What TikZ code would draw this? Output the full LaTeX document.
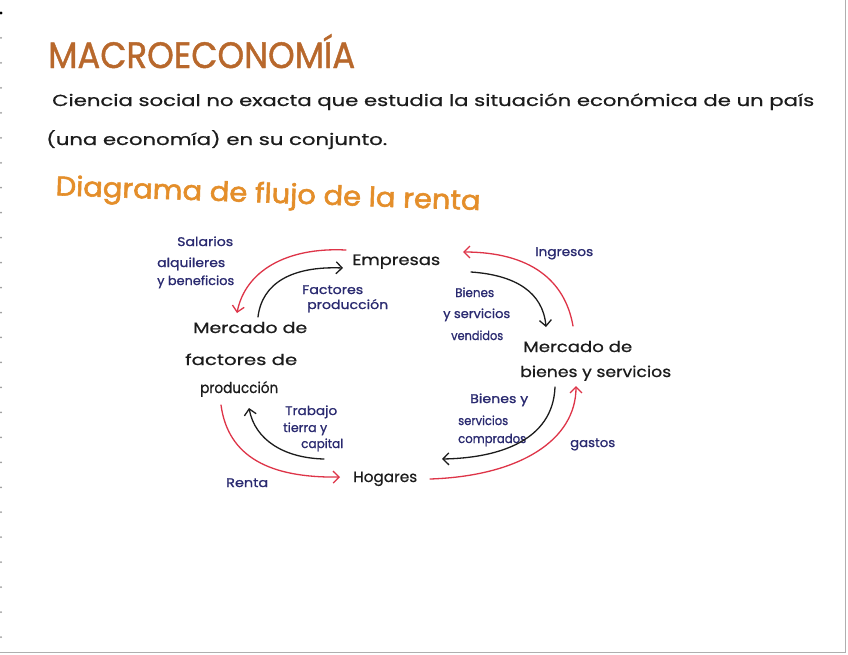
\documentclass[tikz,border=0pt]{standalone}
\usepackage{fontspec}
\setmainfont{Poppins}
\newfontfamily\subfont[FakeBold=2]{Poppins}
\usepackage{graphicx}
\usetikzlibrary{arrows.meta}
\definecolor{titlec}{RGB}{184,104,44}
\definecolor{subc}{RGB}{228,142,42}
\definecolor{redc}{RGB}{222,52,72}
\definecolor{navyc}{RGB}{42,42,112}
\definecolor{inkc}{RGB}{28,28,28}
\definecolor{edgec}{RGB}{175,175,175}
% fit to a width, keeping the natural height
\newcommand{\fw}[2]{\resizebox{#1pt}{\height}{#2}}
\newcommand{\fwh}[3]{\resizebox{#1pt}{#2pt}{#3}}
\begin{document}
\begin{tikzpicture}[x=1pt,y=-1pt,
  txt/.style={inner sep=0pt, anchor=base west, text=inkc, font=\fontsize{15}{17}\selectfont\addfontfeatures{FakeBold=0.6}},
  body/.style={txt, font=\fontsize{16}{18}\selectfont\addfontfeatures{FakeBold=0.6}},
  lab/.style={inner sep=0pt, anchor=base west, text=navyc, font=\fontsize{12.5}{14}\selectfont\addfontfeatures{FakeBold=1}},
  flow/.style={line width=1.3pt, line cap=round, -{Straight Barb[length=6pt,width=12pt,line width=1.3pt]}},
  redflow/.style={flow, draw=redc},
  blkflow/.style={flow, draw=inkc}]
\useasboundingbox (0,0) rectangle (848,654);
\fill[white] (0,0) rectangle (848,654);
% paper edges
\draw[edgec, line width=1pt] (845.5,0) -- (845.5,652) -- (0,652);
\foreach \i in {0,...,25} \fill[gray!80] (1,{13+\i*24.96}) circle (1.0);
\fill[black] (1,13) circle (1.6);
% heading and definition
\node[txt, text=titlec, font=\fontsize{30}{34}\selectfont\addfontfeatures{FakeBold=1.2}] (title) at (48,68) {\fwh{307}{34}{MACROECONOMÍA}};
\node[body] (line1) at (52,106) {\fw{762}{Ciencia social no exacta que estudia la situación económica de un país}};
\node[body] (line2) at (46,145) {\fw{341}{(una economía) en su conjunto.}};
\node[inner sep=0pt, anchor=west, text=subc, font=\subfont\fontsize{27}{30}\selectfont] (sub) at (55,196) {\rotatebox{-2}{\fw{425}{Diagrama de flujo de la renta}}};
% main nodes
\node[txt] (emp) at (352,265) {\fw{88}{Empresas}};
\node[txt] (mf1) at (193,333) {\fw{114}{Mercado de}};
\node[txt] (mf2) at (185,365) {\fw{112}{factores de}};
\node[txt] (mf3) at (200,393) {\fw{78}{producción}};
\node[txt] (mb1) at (523,352) {\fw{109}{Mercado de}};
\node[txt] (mb2) at (520,377) {\fw{151}{bienes y servicios}};
\node[txt] (hog) at (353,482) {\fw{64}{Hogares}};
% labels
\node[lab] (l1) at (177,246) {\fw{56}{Salarios}};
\node[lab] (l2) at (157,267) {\fw{68}{alquileres}};
\node[lab] (l3) at (157,285) {\fw{77}{y beneficios}};
\node[lab] (l4) at (302,294) {\fw{61}{Factores}};
\node[lab] (l5) at (307,309) {\fw{81}{producción}};
\node[lab] (l6) at (285,415) {\fw{52}{Trabajo}};
\node[lab] (l7) at (283,432) {\fw{44}{tierra y}};
\node[lab] (l8) at (301,448) {\fw{42}{capital}};
\node[lab] (l9) at (226,487) {\fw{42}{Renta}};
\node[lab] (l10) at (535,256) {\fw{58}{Ingresos}};
\node[lab] (l11) at (455,297) {\fw{39}{Bienes}};
\node[lab] (l12) at (443,318) {\fw{67}{y servicios}};
\node[lab] (l13) at (451,340) {\fw{52}{vendidos}};
\node[lab] (l14) at (470,403) {\fw{58}{Bienes y}};
\node[lab] (l15) at (458,425) {\fw{50}{servicios}};
\node[lab] (l16) at (458,443) {\fw{68}{comprados}};
\node[lab] (l17) at (570,447) {\fw{45}{gastos}};
% arrow end points
\coordinate (a1s) at (346,250); \coordinate (a1e) at (237,313);
\coordinate (a2s) at (258,317); \coordinate (a2e) at (343,268);
\coordinate (a3s) at (471,272); \coordinate (a3e) at (546,327);
\coordinate (a4s) at (573,326); \coordinate (a4e) at (463,252);
\coordinate (a5s) at (555,387); \coordinate (a5e) at (442,459);
\coordinate (a6s) at (430,479); \coordinate (a6e) at (576,386);
\coordinate (a7s) at (324,459); \coordinate (a7e) at (249,408);
\coordinate (a8s) at (221,405); \coordinate (a8e) at (340,477);
% arrows
\draw[redflow] (a1s) .. controls (285,247) and (245,272) .. (a1e);
\draw[blkflow] (a2s) .. controls (262,283) and (292,266) .. (a2e);
\draw[blkflow] (a3s) .. controls (515,275) and (543,292) .. (a3e);
\draw[redflow] (a4s) .. controls (565,280) and (530,252) .. (a4e);
\draw[blkflow] (a5s) .. controls (553,440) and (500,458) .. (a5e);
\draw[redflow] (a6s) .. controls (520,476) and (576,440) .. (a6e);
\draw[blkflow] (a7s) .. controls (284,458) and (255,440) .. (a7e);
\draw[redflow] (a8s) .. controls (228,457) and (270,478) .. (a8e);
\end{tikzpicture}
\end{document}
